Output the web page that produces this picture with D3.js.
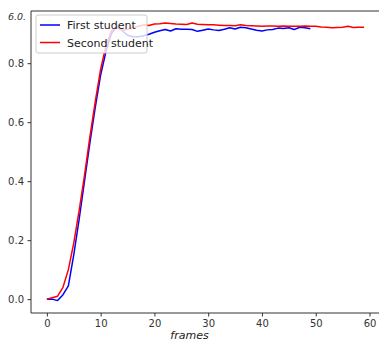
<!DOCTYPE html>
<html><head><meta charset="utf-8">
<script src="https://cdn.jsdelivr.net/npm/d3@7"></script>
<style>body{margin:0;background:#fff;}svg{display:block;font-family:"DejaVu Sans",sans-serif;}</style>
</head><body><svg id="c" width="379" height="342"></svg>
<script>
const firstStudent = [0.0,0.0,-0.005,0.015,0.045,0.15,0.27,0.40,0.53,0.65,0.76,0.84,0.90,0.925,0.91,0.895,0.89,0.89,0.893,0.898,0.905,0.91,0.914,0.909,0.917,0.915,0.915,0.914,0.908,0.912,0.916,0.913,0.911,0.915,0.92,0.916,0.922,0.92,0.916,0.912,0.909,0.913,0.914,0.919,0.918,0.92,0.914,0.922,0.92,0.917];
const secondStudent = [0.0,0.005,0.01,0.04,0.10,0.19,0.30,0.42,0.55,0.67,0.78,0.86,0.91,0.925,0.912,0.915,0.92,0.925,0.93,0.928,0.933,0.934,0.936,0.935,0.933,0.932,0.931,0.936,0.932,0.931,0.93,0.93,0.929,0.928,0.928,0.927,0.93,0.928,0.927,0.926,0.925,0.926,0.926,0.925,0.926,0.925,0.925,0.925,0.926,0.925,0.925,0.923,0.922,0.92,0.921,0.922,0.925,0.921,0.922,0.922];
const seriesNames = ["First student","Second student"];
const seriesColors = ["#0000ff","#ff0000"];
const xTicks = [0,10,20,30,40,50,60];
const yTicks = [0.0,0.2,0.4,0.6,0.8];
const xLabel = "frames";
const strayLabel = "6.0.";

const svg = d3.select("#c");
const L=31,R=380,T=11,B=313;
const x = d3.scaleLinear().domain([-2.95,61.95]).range([L,R]);
const y = d3.scaleLinear().domain([-0.047,0.977]).range([B,T]);

const line = d3.line().x((d,i)=>x(i)).y(d=>y(d));
[firstStudent, secondStudent].forEach((s,k)=>{
  svg.append("path").datum(s).attr("d",line).attr("fill","none")
    .attr("stroke",seriesColors[k]).attr("stroke-width",1.5).attr("stroke-linejoin","round");
});

// axes
const xa = svg.append("g").attr("transform",`translate(0,${B})`)
  .call(d3.axisBottom(x).tickValues(xTicks).tickFormat(d3.format("d")).tickSize(3.5).tickPadding(3.5));
const ya = svg.append("g").attr("transform",`translate(${L},0)`)
  .call(d3.axisLeft(y).tickValues(yTicks).tickFormat(d3.format(".1f")).tickSize(3.5).tickPadding(3.5));
[xa,ya].forEach(a=>{
  a.select(".domain").remove();
  a.selectAll("line").attr("stroke","#333");
  a.selectAll("text").attr("font-size",10).attr("fill","#333").attr("font-family","DejaVu Sans, sans-serif");
});
// spines
svg.append("line").attr("x1",L).attr("x2",L).attr("y1",T).attr("y2",B).attr("stroke","#333").attr("stroke-width",1);
svg.append("line").attr("x1",L).attr("x2",R).attr("y1",B).attr("y2",B).attr("stroke","#333").attr("stroke-width",1);
svg.append("line").attr("x1",L).attr("x2",R).attr("y1",T).attr("y2",T).attr("stroke","#333").attr("stroke-width",1);
svg.append("line").attr("x1",R).attr("x2",R).attr("y1",T).attr("y2",B).attr("stroke","#333").attr("stroke-width",1);

// x label
svg.append("text").attr("x",(L+R)/2-16).attr("y",339).attr("text-anchor","middle")
  .attr("font-size",11).attr("font-style","italic").attr("fill","#222").text(xLabel);
// stray label
svg.append("text").attr("x",8).attr("y",20).attr("font-size",9.5).attr("font-style","italic")
  .attr("fill","#333").text(strayLabel);

// legend
const lg = svg.append("g");
lg.append("rect").attr("x",36).attr("y",15).attr("width",111).attr("height",38).attr("rx",2)
  .attr("fill","#fff").attr("fill-opacity",0.8).attr("stroke","#ccc").attr("stroke-width",1);
seriesNames.forEach((n,k)=>{
  const yy = 25 + k*17.5;
  lg.append("line").attr("x1",40).attr("x2",60).attr("y1",yy).attr("y2",yy)
    .attr("stroke",seriesColors[k]).attr("stroke-width",1.5);
  lg.append("text").attr("x",67).attr("y",yy+4).attr("font-size",11).attr("fill","#222").text(n);
});
</script></body></html>
